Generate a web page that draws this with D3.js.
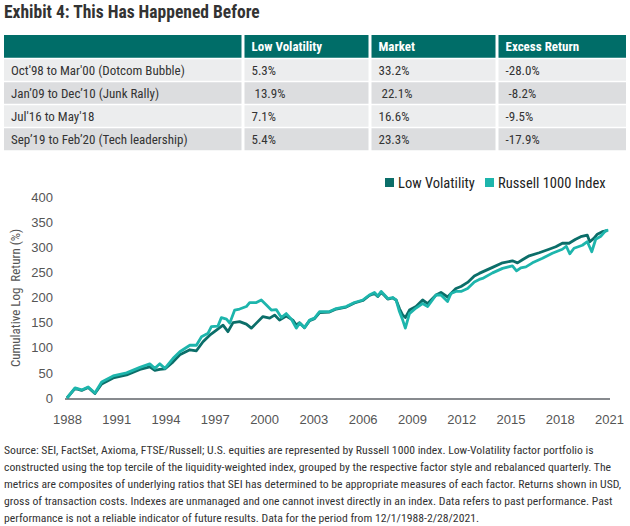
<!DOCTYPE html>
<html><head><meta charset="utf-8">
<script src="https://cdn.jsdelivr.net/npm/d3@7"></script>
<style>
html,body{margin:0;padding:0;background:#fff;}
svg{display:block;font-family:"Liberation Sans Narrow","Roboto Condensed","DejaVu Sans Condensed",Roboto,sans-serif;}
</style></head>
<body><svg id="c" width="630" height="526"></svg>
<script>
const title = "Exhibit 4: This Has Happened Before";
const tableHeader = ["", "Low Volatility", "Market", "Excess Return"];
const periods = ["Oct'98 to Mar'00 (Dotcom Bubble)", "Jan\u201909 to Dec\u201910 (Junk Rally)", "Jul'16 to May'18", "Sep\u201919 to Feb\u201920 (Tech leadership)"];
const lowVolReturns = ["5.3%", " 13.9%", "7.1%", "5.4%"];
const marketReturns = ["33.2%", " 22.1%", "16.6%", "23.3%"];
const excessReturns = ["-28.0%", " -8.2%", "-9.5%", "-17.9%"];

const seriesNames = ["Low Volatility", "Russell 1000 Index"];
const yTicks = [0, 50, 100, 150, 200, 250, 300, 350, 400];
const xTicks = [1988, 1991, 1994, 1997, 2000, 2003, 2006, 2009, 2012, 2015, 2018, 2021];

const russellDates = [1988.00,1988.49,1988.89,1989.29,1989.70,1990.11,1990.81,1991.63,1992.44,1993.04,1993.35,1993.65,1993.96,1994.46,1994.87,1995.48,1995.88,1996.19,1996.59,1996.79,1997.19,1997.40,1997.71,1997.91,1998.21,1998.51,1998.92,1999.12,1999.53,1999.83,2000.14,2000.44,2000.74,2001.05,2001.35,2001.66,2001.96,2002.16,2002.46,2002.77,2003.07,2003.38,2003.98,2004.39,2005.00,2005.50,2006.01,2006.41,2006.72,2006.92,2007.13,2007.33,2007.53,2007.83,2008.04,2008.24,2008.44,2008.60,2008.85,2009.25,2009.65,2009.96,2010.47,2010.77,2011.17,2011.38,2011.68,2011.99,2012.39,2012.80,2013.10,2013.30,2013.91,2014.52,2015.12,2015.37,2015.63,2015.94,2016.34,2016.95,2017.55,2018.16,2018.40,2018.61,2018.87,2019.38,2019.68,2019.95,2020.19,2020.50,2020.80,2020.96];
const russellValues = [0,20,16,22,10,32,44,50,61,68,59,68,59,79,92,105,105,122,129,142,143,160,157,149,175,177,182,190,190,195,185,175,176,160,168,157,139,149,140,155,159,172,172,178,182,190,195,205,210,203,212,205,198,200,195,172,155,139,168,179,188,182,205,205,192,208,212,212,218,231,236,238,249,258,263,253,259,261,269,278,288,296,302,287,298,304,311,291,316,322,333,334];

const lowVolDates = [1988.00,1988.49,1988.89,1989.29,1989.70,1990.11,1990.81,1991.63,1992.44,1993.04,1993.35,1993.65,1993.96,1994.46,1994.87,1995.48,1995.88,1996.28,1996.69,1997.10,1997.50,1997.80,1998.11,1998.51,1998.92,1999.22,1999.53,1999.93,2000.34,2000.64,2000.94,2001.35,2001.75,2001.96,2002.16,2002.46,2002.77,2003.07,2003.38,2003.98,2004.39,2005.00,2005.50,2006.01,2006.41,2006.72,2006.92,2007.13,2007.33,2007.53,2007.83,2008.04,2008.24,2008.44,2008.60,2008.85,2009.25,2009.65,2009.96,2010.47,2010.77,2011.17,2011.38,2011.68,2011.99,2012.39,2012.80,2013.10,2013.30,2013.91,2014.52,2015.12,2015.43,2015.73,2016.14,2016.75,2017.35,2017.76,2018.16,2018.57,2018.97,2019.28,2019.68,2019.83,2020.09,2020.29,2020.59,2020.90];
const lowVolValues = [0,19,15,21,9,28,40,46,57,62,55,57,58,72,86,96,94,112,125,135,145,132,150,152,147,139,149,162,159,165,155,163,155,145,150,140,154,158,170,171,177,181,189,194,204,208,202,210,204,197,199,195,178,165,160,175,182,195,188,205,210,201,208,218,222,230,243,248,251,260,269,273,269,275,283,289,296,301,308,308,316,321,324,311,318,326,331,333];

const colors = ["#0B6E69", "#1DB5AC"];

const svg = d3.select("#c");

// Title
svg.append("text").attr("x", 4).attr("y", 18)
  .attr("font-size", 17.5).attr("font-weight", "bold").attr("fill", "#333")
  .text(title);

// Table
const colX = [4, 243, 370, 497, 626];
const rowY = [35, 58.5, 81.5, 104.5, 127.5, 151];
const gap = 1.5;
const rows = periods.map((p, i) => [p, lowVolReturns[i], marketReturns[i], excessReturns[i]]);
const allRows = [tableHeader, ...rows];
const rowFill = ["#006D68", "#ECEDEE", "#DCDDDF", "#ECEDEE", "#DCDDDF"];
const tbl = svg.append("g");
allRows.forEach((r, ri) => {
  r.forEach((cell, ci) => {
    const x0 = colX[ci] + (ci > 0 ? gap : 0), x1 = colX[ci + 1] - (ci < 3 ? gap : 0);
    const y0 = rowY[ri] + (ri > 0 ? gap / 2 : 0), y1 = rowY[ri + 1] - gap / 2;
    tbl.append("rect").attr("x", x0).attr("y", y0).attr("width", x1 - x0).attr("height", y1 - y0)
      .attr("fill", rowFill[ri]);
    if (cell !== "") {
      tbl.append("text").attr("x", x0 + 7).attr("y", (y0 + y1) / 2 + 4.5)
        .attr("font-size", 13).attr("xml:space", "preserve").style("white-space", "pre")
        .attr("font-weight", ri === 0 ? "bold" : "normal")
        .attr("fill", ri === 0 ? "#fff" : "#333")
        .text(cell);
    }
  });
});

// Chart
const x = d3.scaleLinear().domain([1988, 2021]).range([67, 609]);
const y = d3.scaleLinear().domain([0, 400]).range([398, 197]);

const yAxis = svg.append("g").attr("transform", "translate(53,0)")
  .call(d3.axisLeft(y).tickValues(yTicks).tickSize(0).tickPadding(0));
yAxis.select(".domain").remove();
yAxis.selectAll("text").attr("font-size", 13).attr("fill", "#555").attr("font-family", null);

const xAxis = svg.append("g").attr("transform", "translate(0,399)")
  .call(d3.axisBottom(x).tickValues(xTicks).tickFormat(d3.format("d")).tickSize(0).tickPadding(16));
xAxis.select(".domain").attr("stroke", "#5f6368").attr("stroke-width", 1.5).attr("d", "M65,0H610");
xAxis.selectAll("text").attr("font-size", 13).attr("fill", "#555").attr("font-family", null);

svg.append("text").attr("transform", "translate(20,298) rotate(-90)")
  .attr("text-anchor", "middle").attr("font-size", 13).attr("fill", "#555")
  .attr("xml:space", "preserve").style("white-space", "pre")
  .text("Cumulative Log  Return (%)");

const line = d3.line().x(d => x(d[0])).y(d => y(d[1]));
const lowData = lowVolDates.map((d, i) => [d, lowVolValues[i]]);
const rusData = russellDates.map((d, i) => [d, russellValues[i]]);
[lowData, rusData].forEach((data, i) => {
  svg.append("path").datum(data).attr("d", line).attr("fill", "none")
    .attr("stroke", colors[i]).attr("stroke-width", 2.8).attr("stroke-linejoin", "round");
});

// Legend
const legX = [385, 485];
seriesNames.forEach((n, i) => {
  svg.append("rect").attr("x", legX[i]).attr("y", 178).attr("width", 9).attr("height", 9).attr("fill", colors[i]);
  svg.append("text").attr("x", legX[i] + 13).attr("y", 188).attr("font-size", 14.5).attr("fill", "#222").text(n);
});

// Footnote
const footnote = [
  "Source: SEI, FactSet, Axioma, FTSE/Russell; U.S. equities are represented by Russell 1000 index. Low-Volatility factor portfolio is",
  "constructed using the top tercile of the liquidity-weighted index, grouped by the respective factor style and rebalanced quarterly. The",
  "metrics are composites of underlying ratios that SEI has determined to be appropriate measures of each factor. Returns shown in USD,",
  "gross of transaction costs. Indexes are unmanaged and one cannot invest directly in an index. Data refers to past performance. Past",
  "performance is not a reliable indicator of future results. Data for the period from 12/1/1988-2/28/2021."
];
svg.append("g").selectAll("text").data(footnote).join("text")
  .attr("x", 4).attr("y", (d, i) => 454 + i * 17)
  .attr("font-size", 11.7).attr("fill", "#333").text(d => d)
  .each(function () {
    if (this.getComputedTextLength() > 618) {
      d3.select(this).attr("textLength", 618).attr("lengthAdjust", "spacingAndGlyphs");
    }
  });
</script></body></html>
